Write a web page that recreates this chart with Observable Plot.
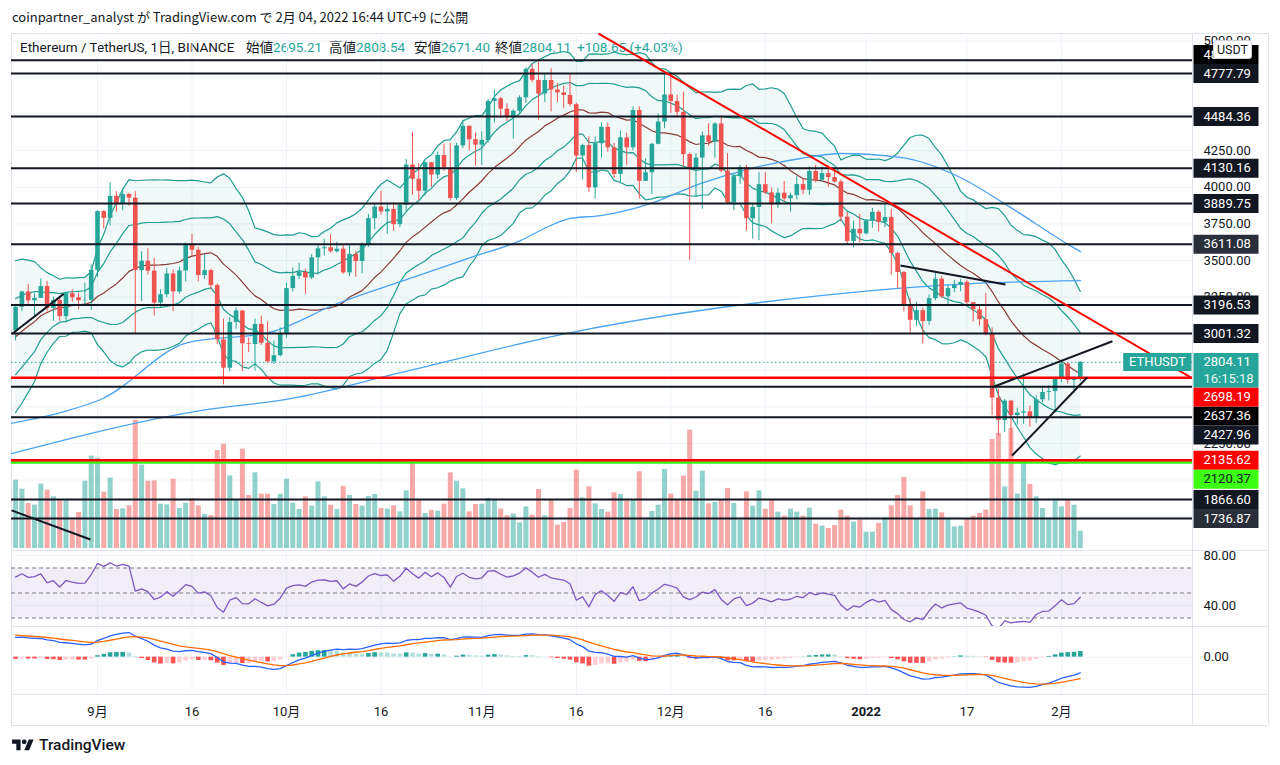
<!DOCTYPE html>
<html lang="ja">
<head>
<meta charset="utf-8">
<title>ETHUSDT 1日</title>
<script src="https://cdn.jsdelivr.net/npm/d3@7"></script>
<script src="https://cdn.jsdelivr.net/npm/@observablehq/plot@0.6"></script>
<style>
html,body{margin:0;padding:0;background:#fff;}
#root{position:relative;width:1280px;height:765px;overflow:hidden;font-family:Roboto,"Noto Sans CJK JP",sans-serif;color:#131722;}
#root svg{position:absolute;left:0;}
.sep{position:absolute;background:#e0e3eb;}
.hdr{position:absolute;left:12px;top:8px;font-size:13px;line-height:18px;white-space:nowrap;font-family:"Noto Sans CJK JP",Roboto,sans-serif;}
.lg{position:absolute;top:38px;font-size:13.5px;line-height:18px;white-space:nowrap;font-family:Roboto,"Noto Sans CJK JP",sans-serif;}
.lg b{font-weight:400;color:#131722;}
.lg span{color:#26a69a;}
.badge{position:absolute;left:1213px;top:40px;width:37px;height:17px;border:1px solid #d1d4dc;border-radius:3px;background:#fff;font-size:12.5px;line-height:17px;text-align:center;z-index:5;}
.foot{position:absolute;left:12px;top:736px;height:18px;display:flex;align-items:center;font-size:15.5px;font-weight:500;}
.foot svg{position:static !important;margin-right:5px;}
</style>
</head>
<body>
<div id="root">
  <div class="sep" style="left:11px;top:33px;width:1257px;height:1px"></div>
  <div class="sep" style="left:11px;top:725px;width:1257px;height:1px"></div>
  <div class="sep" style="left:11px;top:33px;width:1px;height:692px"></div>
  <div class="sep" style="left:1268px;top:33px;width:1px;height:692px"></div>
  <div class="sep" style="left:1192px;top:33px;width:1px;height:692px"></div>
  <div class="sep" style="left:11px;top:550px;width:1257px;height:1px"></div>
  <div class="sep" style="left:11px;top:626px;width:1257px;height:1px"></div>
  <div class="sep" style="left:11px;top:694px;width:1257px;height:1px"></div>
  <div class="hdr">coinpartner_analyst が TradingView.com で 2月 04, 2022 16:44 UTC+9 に公開</div>
  <div class="lg" style="left:20px"><b>Ethereum / TetherUS, 1日, BINANCE</b></div>
  <div class="lg" style="left:246px"><b>始値</b><span>2695.21</span></div>
  <div class="lg" style="left:329px"><b>高値</b><span>2808.54</span></div>
  <div class="lg" style="left:414px"><b>安値</b><span>2671.40</span></div>
  <div class="lg" style="left:495px"><b>終値</b><span>2804.11</span></div>
  <div class="lg" style="left:577px"><span>+108.65 (+4.03%)</span></div>
  <div class="badge">USDT</div>
  <div class="foot"><svg width="22" height="17" viewBox="0 0 36 28"><path fill="#131722" d="M14 22H7V11H0V4h14v18zM28 22h-8l7.5-18h8L28 22z"/><circle fill="#131722" cx="20" cy="8" r="4"/></svg>TradingView</div>
</div>
<script>
// ---------- DATA ----------
// warm-up closes (2021-07-01 .. 2021-08-18), not drawn, used for indicators
const prevCloses = [2113,2150,2226,2322,2198,2324,2316,2116,2146,2111,
  2140,2031,1941,1994,1911,1880,1898,1895,1820,1787,
  1994,2026,2124,2188,2191,2232,2300,2298,2381,2461,2534,
  2556,2608,2507,2725,2827,2890,3158,3012,3163,3140,
  3164,3045,3322,3265,3310,3148,3012,3019];
const firstDay = "2021-08-19";
const closes = [
  3180,3285,3224,3241,3322,3173,3227,3116,3273,3245,3225,3228,3433,
  3834,3788,3938,3887,3951,3926,3431,3495,3427,3209,3266,3408,3285,3429,3612,3570,3397,3431,3329,2958,2764,3077,3155,2931,2926,3063,2934,2807,2849,3001,
  3308,3391,3418,3380,3518,3580,3587,3560,3577,3415,3542,3493,3605,3786,3865,3832,3849,3745,3878,4152,4055,3973,4168,4084,4217,4131,3924,4283,4417,4325,4288,
  4320,4587,4605,4534,4476,4520,4612,4806,4731,4637,4730,4665,4645,4628,4565,4214,4286,3996,4298,4410,4270,4088,4338,4270,4525,4041,4099,4294,4446,4631,
  4586,4512,4224,4122,4200,4352,4308,4433,4111,3894,4073,4135,3785,3862,4018,3962,3880,3960,3921,3943,4019,3980,4108,4048,4094,4067,4036,3796,3630,3713,3682,
  3769,3829,3761,3794,3548,3418,3193,3091,3157,3083,3239,3372,3252,3308,3330,3350,3211,3163,3095,3000,2560,2406,2539,2440,2457,2466,2423,2548,2598,2604,2689,
  2792,2680,2695.21,2804.11];
const highs = [
  3185,3290,3335,3275,3375,3358,3250,3250,3280,3300,3277,3345,3470,
  3840,3840,4030,3970,3985,3960,3970,3560,3580,3515,3300,3445,3435,3455,3620,3680,3590,3540,3440,3340,3100,3110,3175,3160,2970,3100,3120,3080,2950,3040,
  3345,3450,3480,3440,3540,3600,3645,3676,3625,3600,3610,3560,3620,3815,3885,3972,3880,3895,3890,4190,4375,4160,4175,4170,4240,4295,4300,4300,4460,4420,4370,
  4380,4600,4665,4615,4570,4530,4625,4820,4840,4868,4778,4810,4710,4690,4775,4575,4295,4345,4345,4440,4440,4300,4385,4370,4550,4550,4195,4300,4500,4780,
  4780,4630,4650,4235,4230,4380,4435,4440,4490,4230,4090,4150,4150,3885,4100,4100,3995,3990,4040,3960,4075,4055,4140,4150,4140,4125,4125,4050,3830,3770,3815,
  3780,3855,3840,3880,3850,3555,3425,3240,3215,3175,3265,3415,3390,3335,3365,3370,3365,3215,3190,3275,3040,2620,2550,2545,2490,2725,2505,2575,2640,2645,2700,
  2815,2800,2705,2808.54];
const lows = [
  2950,3150,3200,3115,3240,3150,3085,3085,3080,3215,3165,3195,3160,
  3385,3715,3735,3830,3840,3870,3000,3220,3400,3120,3180,3245,3150,3270,3354,3525,3355,3370,3300,2925,2650,2740,3030,2740,2870,2745,2920,2800,2790,2840,
  2970,3285,3370,3270,3370,3400,3530,3550,3550,3405,3390,3385,3410,3590,3710,3810,3680,3700,3725,3830,3945,3910,3940,4000,4055,4110,3905,3910,4265,4250,4145,
  4150,4300,4440,4470,4450,4330,4505,4575,4715,4460,4580,4515,4580,4540,4550,4100,4050,3965,3920,4200,4240,4060,4025,4150,4250,3920,4040,3950,4290,4400,
  4505,4475,4140,3500,3935,3850,4280,4200,4100,3880,3840,4020,3700,3645,3635,3950,3750,3855,3900,3830,3915,3950,3945,4030,4035,4000,4030,3765,3605,3585,3620,
  3675,3720,3695,3725,3400,3310,3150,3000,3050,2930,3055,3225,3240,3185,3280,3285,3185,3080,3050,2985,2440,2300,2325,2160,2375,2380,2360,2385,2525,2540,2460,
  2665,2655,2590,2671.40];
// volume, thousand ETH
const volumes = [
  1025,890,675,650,965,875,775,715,725,425,540,1010,1385,1355,845,1055,585,595,640,1925,
  1250,1010,1015,665,655,1040,600,680,750,640,510,495,1470,1565,1090,735,1490,795,1135,815,
  815,660,810,1040,680,585,775,635,1000,775,650,585,930,795,660,635,780,810,600,590,
  640,550,865,1285,735,525,570,560,665,1135,1010,895,550,660,665,750,735,590,490,515,
  385,625,500,885,490,
  735,350,390,600,1175,760,925,670,585,545,835,810,715,725,1150,425,555,650,1185,815,
  725,1085,1775,860,1160,670,690,735,900,675,425,850,635,865,590,735,545,485,590,545,
  485,605,365,335,300,345,575,485,395,425,245,245,375,460,640,795,1065,640,435,850,
  585,590,535,450,325,335,450,485,525,575,1635,1725,925,1800,815,1300,960,775,600,450,
  715,625,725,650,260];
// moving averages (two blue lines)
const maFastDates = ["2021-08-18T05:00Z","2021-08-27T06:00Z","2021-09-01T12:00Z","2021-09-15T07:00Z","2021-09-28T11:00Z","2021-10-09T02:00Z","2021-10-19T14:00Z","2021-10-30T05:00Z","2021-11-07T03:00Z","2021-11-11T22:00Z","2021-11-15T02:00Z","2021-11-19T20:00Z","2021-11-27T19:00Z","2021-12-05T17:00Z","2021-12-13T16:00Z","2021-12-21T14:00Z","2021-12-27T23:00Z","2022-01-06T11:00Z","2022-01-15T23:00Z","2022-01-23T11:00Z","2022-02-02T22:00Z","2022-02-04T01:00Z"];
const maFastValues = [2386,2474,2550,2939,3010,3206,3363,3520,3636,3739,3787,3807,3889,4026,4128,4197,4231,4204,4067,3875,3588,3560];
const maSlowDates = ["2021-08-18T08:00Z","2021-09-17T08:00Z","2021-10-01T15:00Z","2021-10-19T02:00Z","2021-11-15T02:00Z","2021-12-24T18:00Z","2022-01-17T14:00Z","2022-02-04T01:00Z"];
const maSlowValues = [2180,2474,2556,2733,3007,3260,3342,3363];
// horizontal levels
const blackLevels = [4868.00,4777.79,4484.36,4130.16,3889.75,3611.08,3196.53,3001.32,2637.36,2427.96,1866.60,1736.87];
const redLevels = [2698.19,2135.62];
const greenLevels = [2120.37];
const currentPrice = 2804.11;
const currentTime = "16:15:18";
const symbolName = "ETHUSDT";
const priceTicks = [5000,4250,4000,3750,3500,3250,2250];
const gridPrices = [5000,4750,4500,4250,4000,3750,3500,3250,3000,2750,2500,2250,2000,1750];
// drawn trend lines [date, price]
const redTrendStart = ["2021-11-19T12:30Z", 5051];
const redTrendEnd = ["2022-02-21T19:26Z", 2694];
const blackTrendStarts = [["2021-08-18T11:00Z",2999],["2021-08-18T08:24Z",1792],["2022-01-06T11:00Z",3466],["2022-01-24T04:30Z",2167],["2022-01-21T01:30Z",2634]];
const blackTrendEnds   = [["2021-08-26T15:30Z",3272],["2021-08-30T21:00Z",1593],["2022-01-23T03:00Z",3336],["2022-02-05T02:30Z",2702],["2022-02-09T02:30Z",2948]];
// time axis
const tickDates = ["2021-09-01","2021-09-16","2021-10-01","2021-10-16","2021-11-01","2021-11-16","2021-12-01","2021-12-16","2022-01-01","2022-01-17","2022-02-01"];
const tickLabels = ["9月","16","10月","16","11月","16","12月","16","2022","17","2月"];
const rsiLevels = [70,50,30];
const rsiTicks = [80,40];
const macdTicks = [0];

// ---------- STYLE / LAYOUT ----------
const TEAL = "#26a69a", RED = "#ef5350", INK = "#131722";
const W = 1280, ML = 11, MR = 88;
const FONT = "Roboto, sans-serif";
const xDomain = [new Date("2021-08-18T08:24Z"), new Date("2022-02-21T19:26Z")];
const priceTop = 33, priceH = 517;
const yDomain = [1518.2, 5051.1];
const volPerPx = 15;
const root = document.getElementById("root");
const svgStyle = {background: "transparent", overflow: "visible"};

// ---------- DERIVED ----------
const N0 = prevCloses.length;
const allCloses = prevCloses.concat(closes);
const t0 = Date.parse(firstDay + "T00:00Z");
const DAY = 864e5;
function emaSeries(arr, n) {
  const a = 2 / (n + 1), out = []; let e = NaN, start = arr.findIndex(v => !isNaN(v));
  for (let i = 0; i < arr.length; i++) {
    if (i < start + n - 1) { out.push(NaN); continue; }
    if (i === start + n - 1) e = d3.mean(arr.slice(start, start + n));
    else e = a * arr[i] + (1 - a) * e;
    out.push(e);
  }
  return out;
}
// RSI (Wilder 14)
const rsiAll = [NaN]; let ag = 0, al = 0;
for (let i = 1; i < allCloses.length; i++) {
  const ch = allCloses[i] - allCloses[i - 1], g = Math.max(ch, 0), l = Math.max(-ch, 0);
  if (i <= 14) { ag += g / 14; al += l / 14; if (i < 14) { rsiAll.push(NaN); continue; } }
  else { ag = (ag * 13 + g) / 14; al = (al * 13 + l) / 14; }
  rsiAll.push(100 - 100 / (1 + ag / al));
}
// MACD 12/26/9
const e12 = emaSeries(allCloses, 12), e26 = emaSeries(allCloses, 26);
const macdAll = allCloses.map((_, i) => e12[i] - e26[i]);
const sigAll = emaSeries(macdAll, 9);

const bars = closes.map((c, i) => {
  const g = N0 + i;
  const win = allCloses.slice(g - 19, g + 1);
  const m = d3.mean(win);
  const sd = Math.sqrt(d3.mean(win, v => (v - m) ** 2));
  const open = i === 0 ? prevCloses[N0 - 1] : closes[i - 1];
  const hist = macdAll[g] - sigAll[g], histPrev = macdAll[g - 1] - sigAll[g - 1];
  return {
    date: new Date(t0 + i * DAY), open, high: highs[i], low: lows[i], close: c, vol: volumes[i],
    col: c >= open ? TEAL : RED,
    basis: m, up2: m + 2 * sd, lo2: m - 2 * sd, up1: m + sd, lo1: m - sd,
    rsi: rsiAll[g], macd: macdAll[g], signal: sigAll[g], hist,
    hcol: hist >= 0 ? (histPrev < hist ? "#26a69a" : "#b2dfdb") : (histPrev < hist ? "#ffcdd2" : "#ff5252")
  };
});
const maFast = maFastDates.map((d, i) => ({date: new Date(d), v: maFastValues[i]}));
const maSlow = maSlowDates.map((d, i) => ({date: new Date(d), v: maSlowValues[i]}));
const ticks = tickDates.map((d, i) => ({date: new Date(d + "T00:00Z"), label: tickLabels[i]}));
const trendBlack = blackTrendStarts.map((s, i) => ({x1: new Date(s[0]), y1: s[1], x2: new Date(blackTrendEnds[i][0]), y2: blackTrendEnds[i][1]}));
const trendRed = [{x1: new Date(redTrendStart[0]), y1: redTrendStart[1], x2: new Date(redTrendEnd[0]), y2: redTrendEnd[1]}];

// right-axis label placement (push away from the current-price tag)
const yScale = Plot.scale({y: {domain: yDomain, range: [priceH, 0]}});
const allLevels = blackLevels.concat(redLevels, greenLevels);
const curY = yScale.apply(currentPrice);
const placed = new Map();
let lim = curY - 9.3;
for (const v of allLevels.filter(v => v > currentPrice).sort((a, b) => a - b)) {
  const y = Math.min(yScale.apply(v), lim - 9.5); placed.set(v, y); lim = y - 9.5;
}
lim = curY + 25.3;
for (const v of allLevels.filter(v => v < currentPrice).sort((a, b) => b - a)) {
  const y = Math.max(yScale.apply(v), lim + 9.5); placed.set(v, y); lim = y + 9.5;
}
const pureBlack = new Set([4868.00, 2637.36]), greyish = new Set([3611.08, 1736.87]);
const labelRows = allLevels.map(v => ({
  at: yScale.invert(placed.get(v)), text: v.toFixed(2),
  bg: redLevels.includes(v) ? "#ff0000" : greenLevels.includes(v) ? "#3cff14" : pureBlack.has(v) ? "#000000" : greyish.has(v) ? "#2a2e39" : INK,
  fg: greenLevels.includes(v) ? INK : "#ffffff"
}));
const boxSym = {draw(ctx) { ctx.rect(1, -9.5, 65, 19); }};
const curSym = {draw(ctx) { ctx.rect(1, -9.3, 65, 34.6); }};
const tagSym = {draw(ctx) { ctx.rect(-69.3, -9.3, 68.3, 18); }};

function place(svg, top) { svg.style.top = top + "px"; svg.style.left = "0px"; root.appendChild(svg); }

// ---------- VOLUME (behind price) ----------
place(Plot.plot({
  width: W, height: priceH, marginLeft: ML, marginRight: MR, marginTop: 0, marginBottom: 2,
  x: {type: "utc", domain: xDomain, axis: null},
  y: {domain: [0, (priceH - 2) * volPerPx], axis: null},
  color: {type: "identity"}, style: svgStyle,
  marks: [
    Plot.ruleX(tickDates.map(d => new Date(d + "T00:00Z")), {stroke: "#f0f3fa"}),
    Plot.ruleY(gridPrices.map(p => (priceH - 2 - yScale.apply(p)) * volPerPx), {stroke: "#f0f3fa"}),
    Plot.ruleX(bars, {x: "date", y1: 0, y2: "vol", stroke: "col", strokeWidth: 5, strokeOpacity: 0.5})
  ]
}), priceTop);

// ---------- PRICE PANE ----------
place(Plot.plot({
  width: W, height: priceH, marginLeft: ML, marginRight: MR, marginTop: 0, marginBottom: 0,
  x: {type: "utc", domain: xDomain, axis: null},
  y: {domain: yDomain, axis: null},
  color: {type: "identity"}, style: svgStyle,
  marks: [
    Plot.areaY(bars, {x: "date", y1: "lo2", y2: "up2", fill: TEAL, fillOpacity: 0.07, clip: true}),
    Plot.lineY(bars, {x: "date", y: "up2", stroke: "#1f9e8f", strokeWidth: 1.2, clip: true}),
    Plot.lineY(bars, {x: "date", y: "lo2", stroke: "#1f9e8f", strokeWidth: 1.2, clip: true}),
    Plot.lineY(bars, {x: "date", y: "up1", stroke: "#1f9e8f", strokeWidth: 1.2, clip: true}),
    Plot.lineY(bars, {x: "date", y: "lo1", stroke: "#1f9e8f", strokeWidth: 1.2, clip: true}),
    Plot.lineY(bars, {x: "date", y: "basis", stroke: "#8a3b36", strokeWidth: 1.2, clip: true}),
    Plot.line(maFast, {x: "date", y: "v", stroke: "#4ba3f3", strokeWidth: 1.3, curve: "monotone-x", clip: true}),
    Plot.line(maSlow, {x: "date", y: "v", stroke: "#4ba3f3", strokeWidth: 1.3, curve: "monotone-x", clip: true}),
    Plot.ruleY([currentPrice], {stroke: TEAL, strokeDasharray: "1.5,2.5", strokeWidth: 1}),
    Plot.ruleX(bars, {x: "date", y1: "low", y2: "high", stroke: "col", strokeWidth: 1}),
    Plot.ruleX(bars, {x: "date", y1: "open", y2: "close", stroke: "col", strokeWidth: 4.6}),
    Plot.ruleY(blackLevels, {stroke: INK, strokeWidth: 2}),
    Plot.ruleY(greenLevels, {stroke: "#2ef500", strokeWidth: 2.5}),
    Plot.ruleY(redLevels, {stroke: "#ff0000", strokeWidth: 2.5}),
    Plot.link(trendBlack, {x1: "x1", y1: "y1", x2: "x2", y2: "y2", stroke: INK, strokeWidth: 2, clip: true}),
    Plot.link(trendRed, {x1: "x1", y1: "y1", x2: "x2", y2: "y2", stroke: "#ff0000", strokeWidth: 2, clip: true}),
    // right price scale
    Plot.text(priceTicks, {y: d => d, text: d => d.toFixed(2), frameAnchor: "right", dx: 11, textAnchor: "start", fill: INK, fontSize: 13, fontFamily: FONT}),
    Plot.dot(labelRows, {y: "at", frameAnchor: "right", symbol: boxSym, fill: "bg", stroke: null}),
    Plot.text(labelRows, {y: "at", text: "text", frameAnchor: "right", dx: 11, textAnchor: "start", fill: "fg", fontSize: 13, fontFamily: FONT}),
    Plot.dot([currentPrice], {y: d => d, frameAnchor: "right", symbol: curSym, fill: TEAL, stroke: null}),
    Plot.dot([currentPrice], {y: d => d, frameAnchor: "right", symbol: tagSym, fill: TEAL, stroke: null}),
    Plot.text([currentPrice], {y: d => d, text: d => d.toFixed(2), frameAnchor: "right", dx: 11, textAnchor: "start", fill: "#ffffff", fontSize: 13, fontFamily: FONT}),
    Plot.text([currentPrice], {y: d => d, text: () => currentTime, frameAnchor: "right", dx: 11, dy: 16.7, textAnchor: "start", fill: "#e6f5f3", fontSize: 13, fontFamily: FONT}),
    Plot.text([currentPrice], {y: d => d, text: () => symbolName, frameAnchor: "right", dx: -35, textAnchor: "middle", fill: "#ffffff", fontSize: 13, fontFamily: FONT})
  ]
}), priceTop);

// ---------- RSI ----------
place(Plot.plot({
  width: W, height: 76, marginLeft: ML, marginRight: MR, marginTop: 0, marginBottom: 0,
  x: {type: "utc", domain: xDomain, axis: null},
  y: {domain: [23.2, 84], axis: null},
  color: {type: "identity"}, style: svgStyle,
  marks: [
    Plot.ruleX(ticks, {x: "date", stroke: "#f0f3fa"}),
    Plot.ruleY(rsiTicks, {stroke: "#f0f3fa"}),
    Plot.areaY(xDomain, {x: d => d, y1: rsiLevels[2], y2: rsiLevels[0], fill: "#7e57c2", fillOpacity: 0.1}),
    Plot.ruleY(rsiLevels, {stroke: "#787b86", strokeDasharray: "4,3", strokeWidth: 1}),
    Plot.lineY(bars, {x: "date", y: "rsi", stroke: "#7e57c2", strokeWidth: 1.3, clip: true}),
    Plot.text(rsiTicks, {y: d => d, text: d => d.toFixed(2), frameAnchor: "right", dx: 11, textAnchor: "start", fill: INK, fontSize: 13, fontFamily: FONT})
  ]
}), 550);

// ---------- MACD ----------
const mVals = bars.flatMap(b => [b.macd, b.signal, b.hist]);
const mLo = d3.min(mVals), mHi = d3.max(mVals), mSpan = mHi - mLo;
place(Plot.plot({
  width: W, height: 68, marginLeft: ML, marginRight: MR, marginTop: 0, marginBottom: 0,
  x: {type: "utc", domain: xDomain, axis: null},
  y: {domain: [mLo - 0.13 * mSpan, mHi + 0.11 * mSpan], axis: null},
  color: {type: "identity"}, style: svgStyle,
  marks: [
    Plot.ruleX(ticks, {x: "date", stroke: "#f0f3fa"}),
    Plot.ruleY(macdTicks, {stroke: "#eceef3"}),
    Plot.ruleX(bars, {x: "date", y1: 0, y2: "hist", stroke: "hcol", strokeWidth: 4.6}),
    Plot.lineY(bars, {x: "date", y: "macd", stroke: "#2962ff", strokeWidth: 1.3}),
    Plot.lineY(bars, {x: "date", y: "signal", stroke: "#ff6d00", strokeWidth: 1.3}),
    Plot.text(macdTicks, {y: d => d, text: d => d.toFixed(2), frameAnchor: "right", dx: 11, textAnchor: "start", fill: INK, fontSize: 13, fontFamily: FONT})
  ]
}), 626);

// ---------- TIME AXIS ----------
place(Plot.plot({
  width: W, height: 31, marginLeft: ML, marginRight: MR, marginTop: 0, marginBottom: 0,
  x: {type: "utc", domain: xDomain, axis: null},
  y: {axis: null},
  style: svgStyle,
  marks: [
    Plot.text(ticks.filter(t => t.label !== "2022"), {x: "date", text: "label", frameAnchor: "middle", dy: 2, fill: INK, fontSize: 13, fontFamily: "Roboto, 'Noto Sans CJK JP', sans-serif"}),
    Plot.text(ticks.filter(t => t.label === "2022"), {x: "date", text: "label", frameAnchor: "middle", dy: 2, fill: INK, fontSize: 13, fontWeight: 700, fontFamily: FONT})
  ]
}), 694);
</script>
</body>
</html>
